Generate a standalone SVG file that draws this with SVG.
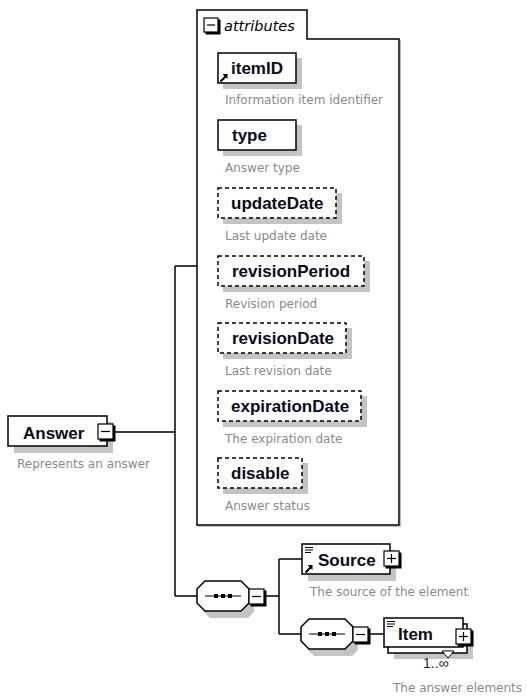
<svg xmlns="http://www.w3.org/2000/svg" width="527" height="700" viewBox="0 0 527 700">
  <style>
    .box { fill: #fff; stroke: #000; stroke-width: 1.5; }
    .opt { fill: #fff; stroke: #000; stroke-width: 1.5; stroke-dasharray: 4 3; }
    .shadow { fill: #c4c4c4; }
    .label { font-family: "Liberation Sans", Arial, sans-serif; font-weight: bold; font-size: 17px; fill: #0a0a1e; }
    .desc { font-family: "DejaVu Sans", Tahoma, sans-serif; font-size: 12px; fill: #8a8a8a; }
    .title { font-family: "DejaVu Sans", Tahoma, sans-serif; font-style: italic; font-size: 14.5px; fill: #000; }
    .occ { font-family: "Liberation Sans", Arial, sans-serif; font-size: 14px; fill: #2a1a40; }
    .wire { fill: none; stroke: #000; stroke-width: 1.5; }
    .btn { fill: #fff; stroke: #000; stroke-width: 1.2; }
    .btnshadow { fill: #000; }
    .glyph { fill: none; stroke: #000; stroke-width: 1.2; }
  </style>
  <defs>
    <!-- expand/collapse button: black offset edge plus white face -->
    <g id="btn-minus">
      <rect class="btnshadow" x="1.5" y="1.5" width="16" height="16"/>
      <rect class="btn" x="0" y="0" width="15" height="15"/>
      <line class="glyph" x1="3" y1="7.5" x2="12" y2="7.5"/>
    </g>
    <g id="btn-plus">
      <rect class="btnshadow" x="1.5" y="1.5" width="16" height="16"/>
      <rect class="btn" x="0" y="0" width="15" height="15"/>
      <line class="glyph" x1="3" y1="7.5" x2="12" y2="7.5"/>
      <line class="glyph" x1="7.5" y1="3" x2="7.5" y2="12"/>
    </g>
    <!-- reference arrow -->
    <g id="ref-arrow">
      <path d="M0.5 7.5 L6 2" stroke="#000" stroke-width="2" fill="none"/>
      <path d="M2.5 0 L7.5 0 L7.5 5 Z" fill="#000"/>
    </g>
    <!-- element-content mark -->
    <g id="content-mark" stroke="#000" stroke-width="1">
      <line x1="0" y1="0.5" x2="8" y2="0.5"/>
      <line x1="0" y1="3" x2="8" y2="3"/>
      <line x1="0" y1="5.5" x2="6" y2="5.5"/>
    </g>
    <!-- sequence compositor -->
    <g id="sequence">
      <path class="shadow" d="M13 5 H51 L57 11 V31 L51 37 H13 L7 31 V11 Z"/>
      <path class="box" d="M8 0 H44 L52 8 V22 L44 30 H8 L0 22 V8 Z"/>
      <line x1="8" y1="15" x2="44" y2="15" stroke="#000" stroke-width="1.2"/>
      <rect x="17" y="13" width="4" height="4" fill="#000"/>
      <rect x="24" y="13" width="4" height="4" fill="#000"/>
      <rect x="31" y="13" width="4" height="4" fill="#000"/>
    </g>
  </defs>

  <!-- connectors -->
  <g id="connectors">
    <line class="wire" x1="115" y1="432" x2="175" y2="432"/>
    <line class="wire" x1="175" y1="266" x2="175" y2="596"/>
    <line class="wire" x1="175" y1="266" x2="197" y2="266"/>
    <line class="wire" x1="175" y1="596" x2="197" y2="596"/>
    <line class="wire" x1="266" y1="596" x2="279" y2="596"/>
    <line class="wire" x1="279" y1="559" x2="279" y2="634"/>
    <line class="wire" x1="279" y1="559" x2="302" y2="559"/>
    <line class="wire" x1="279" y1="634" x2="301" y2="634"/>
    <line class="wire" x1="369" y1="634" x2="384" y2="634"/>
  </g>

  <!-- root element -->
  <g id="answer">
    <rect class="shadow" x="14" y="422" width="99" height="31"/>
    <rect class="box" x="8" y="416" width="99" height="30"/>
    <text class="label" x="23" y="439">Answer</text>
    <use href="#btn-minus" x="98" y="424"/>
    <text class="desc" x="17" y="468">Represents an answer</text>
  </g>

  <!-- attribute group -->
  <g id="attributes">
    <path d="M197 10 H307 V39 H399 V525 H197 Z" fill="#fff" stroke="#000" stroke-width="1.5"/>
    <path d="M400.5 40 V526.5 H198" fill="none" stroke="#bbb" stroke-width="1"/>
    <rect class="btnshadow" x="205.5" y="19.5" width="15" height="15"/>
    <rect class="btn" x="204" y="18" width="14" height="14"/>
    <line class="glyph" x1="207" y1="25" x2="215" y2="25"/>
    <text class="title" x="224" y="31">attributes</text>
  </g>

  <g id="attr-itemID">
    <rect class="shadow" x="223" y="58" width="79" height="31"/>
    <rect class="box" x="218" y="53" width="78" height="30"/>
    <use href="#ref-arrow" x="220" y="74"/>
    <text class="label" x="231" y="74">itemID</text>
    <text class="desc" x="225" y="104">Information item identifier</text>
  </g>

  <g id="attr-type">
    <rect class="shadow" x="223" y="125" width="79" height="31"/>
    <rect class="box" x="218" y="120" width="78" height="30"/>
    <text class="label" x="232" y="141">type</text>
    <text class="desc" x="225" y="172">Answer type</text>
  </g>

  <g id="attr-updateDate">
    <rect class="shadow" x="223" y="193" width="119" height="31"/>
    <rect class="opt" x="218" y="188" width="118" height="30"/>
    <text class="label" x="231" y="209">updateDate</text>
    <text class="desc" x="225" y="240">Last update date</text>
  </g>

  <g id="attr-revisionPeriod">
    <rect class="shadow" x="223" y="261" width="147" height="31"/>
    <rect class="opt" x="218" y="256" width="146" height="30"/>
    <text class="label" x="232" y="277">revisionPeriod</text>
    <text class="desc" x="225" y="308">Revision period</text>
  </g>

  <g id="attr-revisionDate">
    <rect class="shadow" x="223" y="328" width="129" height="31"/>
    <rect class="opt" x="218" y="323" width="128" height="30"/>
    <text class="label" x="232" y="344">revisionDate</text>
    <text class="desc" x="225" y="375">Last revision date</text>
  </g>

  <g id="attr-expirationDate">
    <rect class="shadow" x="223" y="396" width="144" height="31"/>
    <rect class="opt" x="218" y="391" width="143" height="30"/>
    <text class="label" x="231" y="412">expirationDate</text>
    <text class="desc" x="225" y="443">The expiration date</text>
  </g>

  <g id="attr-disable">
    <rect class="shadow" x="223" y="463" width="85" height="31"/>
    <rect class="opt" x="218" y="458" width="84" height="30"/>
    <text class="label" x="231" y="479">disable</text>
    <text class="desc" x="225" y="510">Answer status</text>
  </g>

  <!-- content model -->
  <g id="sequence-outer">
    <use href="#sequence" x="197" y="581"/>
    <use href="#btn-minus" x="249" y="589"/>
  </g>

  <g id="source">
    <rect class="shadow" x="308" y="550" width="88" height="31"/>
    <rect class="box" x="302" y="544" width="88" height="30"/>
    <use href="#content-mark" x="305" y="547"/>
    <use href="#ref-arrow" x="305" y="565"/>
    <text class="label" x="318" y="566">Source</text>
    <use href="#btn-plus" x="384" y="551"/>
    <text class="desc" x="310" y="596">The source of the element</text>
  </g>

  <g id="sequence-inner">
    <use href="#sequence" x="301" y="619"/>
    <use href="#btn-minus" x="353" y="627"/>
  </g>

  <g id="item">
    <rect class="shadow" x="394" y="630" width="79" height="29"/>
    <rect class="box" x="388" y="624" width="79" height="29"/>
    <path d="M442 651 H454 L448 658 Z" fill="#fff" stroke="#000" stroke-width="1"/>
    <rect class="box" x="384" y="618" width="79" height="29"/>
    <use href="#content-mark" x="387" y="621"/>
    <text class="label" x="398" y="640">Item</text>
    <use href="#btn-plus" x="456" y="629"/>
    <text class="occ" x="423" y="668">1..∞</text>
    <text class="desc" x="393" y="692">The answer elements</text>
  </g>
</svg>
